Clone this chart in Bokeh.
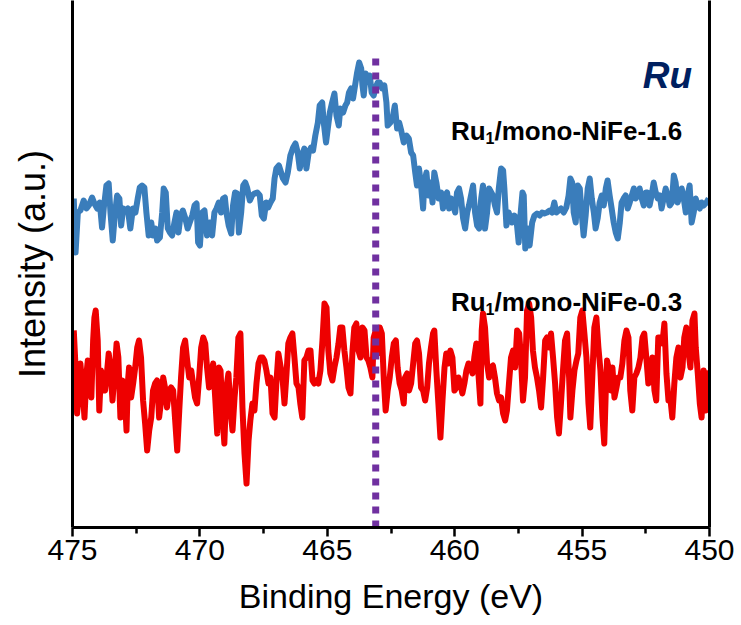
from bokeh.plotting import figure
from bokeh.models import Range1d, LinearAxis, Label, FixedTicker
from bokeh.embed import file_html
from bokeh.resources import INLINE

# ---------------- data ----------------
x_ticks = [475, 470, 465, 460, 455, 450]
x_minor = [472.5, 467.5, 462.5, 457.5, 452.5]
ref_line_ev = 463.1          # dotted reference line position (eV)
ref_line_top = 472           # its upper end (a.u.)

blue_ev = [
    474.95, 474.88, 474.79, 474.69, 474.56, 474.45, 474.36, 474.23, 474.14, 474.03,
    473.93, 473.84, 473.77, 473.67, 473.58, 473.51, 473.42, 473.34, 473.25, 473.16,
    473.09, 473.01, 472.92, 472.83, 472.73, 472.63, 472.53, 472.44, 472.36, 472.27,
    472.18, 472.10, 472.01, 471.91, 471.84, 471.74, 471.68, 471.57, 471.48, 471.42,
    471.34, 471.26, 471.18, 471.09, 471.00, 470.92, 470.84, 470.76, 470.67, 470.57,
    470.48, 470.40, 470.30, 470.21, 470.13, 470.07, 470.00, 469.91, 469.82, 469.72,
    469.62, 469.52, 469.43, 469.35, 469.26, 469.17, 469.09, 469.02, 468.96, 468.87,
    468.77, 468.70, 468.62, 468.54, 468.47, 468.38, 468.30, 468.22, 468.15, 468.04,
    467.95, 467.86, 467.75, 467.65, 467.57, 467.49, 467.40, 467.32, 467.23, 467.14,
    467.07, 467.00, 466.90,
    466.74, 466.64, 466.55, 466.45, 466.34, 466.25, 466.16, 466.08, 465.99, 465.90,
    465.82, 465.73, 465.64, 465.56, 465.47, 465.37, 465.30, 465.20, 465.14, 465.05,
    464.98, 464.90, 464.81, 464.72, 464.64, 464.55, 464.49, 464.38, 464.29, 464.22,
    464.15, 464.07, 463.99, 463.91, 463.83, 463.75, 463.67, 463.62, 463.57, 463.49,
    463.41, 463.33, 463.26, 463.18, 463.10, 463.02, 462.94, 462.85, 462.76, 462.68,
    462.63, 462.52, 462.42, 462.35, 462.26, 462.18, 462.10, 462.00, 461.89, 461.80,
    461.71, 461.63, 461.55, 461.48, 461.40, 461.32, 461.24, 461.19, 461.11, 461.03,
    460.95, 460.87, 460.80, 460.72, 460.63, 460.53, 460.46, 460.38, 460.30, 460.22,
    460.14, 460.06, 459.98, 459.91, 459.83, 459.75, 459.67, 459.59, 459.51, 459.44,
    459.36, 459.28, 459.20, 459.12, 459.04, 458.96, 458.89, 458.81, 458.73, 458.65,
    458.50, 458.42, 458.34, 458.27, 458.18, 458.10, 458.05, 457.97, 457.88, 457.82,
    457.75, 457.66, 457.58, 457.49, 457.42, 457.34, 457.29, 457.23, 457.13, 457.06,
    456.96, 456.87, 456.77, 456.66, 456.57, 456.48, 456.38, 456.27, 456.18, 456.09,
    456.01, 455.92, 455.83, 455.72, 455.62, 455.53, 455.46, 455.39, 455.33, 455.25,
    455.17, 455.09, 455.02, 454.94, 454.86, 454.78, 454.70, 454.62, 454.54, 454.47,
    454.39, 454.31, 454.23, 454.15, 454.07, 454.00, 453.92, 453.84, 453.76, 453.68,
    453.60, 453.52, 453.45, 453.37, 453.29, 453.21, 453.13, 453.05, 452.97, 452.90,
    452.82, 452.74, 452.66, 452.58, 452.50, 452.43, 452.35, 452.27, 452.19, 452.11,
    452.03, 451.95, 451.88, 451.80, 451.72, 451.64, 451.56, 451.48, 451.40, 451.33,
    451.25, 451.17, 451.09, 451.01, 450.93, 450.86, 450.78, 450.70, 450.62, 450.54,
    450.46, 450.38, 450.31, 450.23, 450.12, 450.03,
]
blue_int = [
    329, 275, 315, 317, 327, 319, 322, 330, 324, 319,
    325, 300, 320, 342, 344, 315, 287, 312, 332, 329,
    302, 319, 317, 319, 299, 319, 315, 329, 340, 342,
    340, 315, 292, 305, 292, 299, 287, 290, 315, 339,
    335, 299, 295, 292, 305, 315, 295, 312, 317, 309,
    299, 305, 312, 322, 324, 285, 282, 315, 317, 292,
    305, 292, 315, 319, 325, 315, 329, 330, 315, 302,
    294, 322, 335, 334, 295, 315, 342, 345, 340, 327,
    332, 334, 335, 332, 312, 309, 325, 320, 325, 329,
    349, 359, 362,
    349, 345, 355, 372, 380, 384, 375, 359, 372, 379,
    359, 375, 380, 377, 392, 405, 422, 425, 405, 385,
    399, 415, 425, 434, 412, 402, 419, 415, 422, 425,
    435, 439, 429, 442, 455, 465, 459, 442, 432, 454,
    447, 452, 435, 432, 440, 445, 445, 439, 442, 425,
    402, 405, 412, 422, 399, 405, 397, 385, 392, 389,
    375, 372, 355, 342, 359, 342, 319, 345, 355, 332,
    345, 325, 355, 345, 329, 335, 319, 332, 335, 319,
    329, 322, 315, 335, 339, 329, 309, 299, 315, 322,
    332, 342, 315, 302, 299, 329, 342, 299, 315, 339,
    332, 322, 315, 339, 359, 357, 339, 302, 315, 309,
    305, 312, 309, 285, 312, 335, 332, 279, 299, 282,
    305, 312, 314, 312, 315, 314, 315, 317, 315, 325,
    315, 317, 319, 315, 320, 332, 349, 345, 315, 305,
    342, 339, 315, 292, 312, 339, 349, 329, 315, 299,
    309, 325, 332, 322, 339, 347, 332, 319, 305, 295,
    289, 305, 325, 329, 332, 319, 325, 332, 339, 329,
    332, 339, 329, 322, 335, 335, 322, 332, 345, 335,
    329, 332, 319, 329, 339, 332, 322, 325, 352, 345,
    325, 332, 339, 329, 315, 332, 342, 305, 315, 329,
    322, 319, 325, 322, 325, 329,
]

red_ev = [
    474.95, 474.88, 474.82, 474.74, 474.69, 474.61, 474.53, 474.45, 474.40, 474.32,
    474.26, 474.19, 474.14, 474.09, 474.01, 473.95, 473.88, 473.80, 473.72, 473.64,
    473.58, 473.51, 473.43, 473.35, 473.27, 473.20, 473.12, 473.04, 472.96, 472.88,
    472.83, 472.78, 472.70, 472.62, 472.54, 472.46, 472.39, 472.31, 472.23, 472.15,
    472.07, 471.99, 471.91, 471.84, 471.76, 471.68, 471.60, 471.52, 471.44, 471.37,
    471.29, 471.21, 471.13, 471.05, 470.97, 470.89, 470.81, 470.74, 470.66, 470.58,
    470.50, 470.42, 470.34, 470.27, 470.19, 470.11, 470.03, 469.95, 469.87, 469.79,
    469.72, 469.64, 469.56, 469.48, 469.40, 469.32, 469.25, 469.19, 469.11, 469.04,
    468.96, 468.88, 468.80, 468.72, 468.64, 468.57, 468.49, 468.41, 468.33, 468.25,
    468.17, 468.09, 468.02, 467.94, 467.86, 467.78, 467.70, 467.62, 467.54, 467.47,
    467.39, 467.31, 467.23, 467.15, 467.07, 467.00, 466.92,
    466.76, 466.68, 466.60, 466.53, 466.45, 466.37, 466.29, 466.21, 466.13, 466.06,
    465.98, 465.90, 465.82, 465.74, 465.66, 465.58, 465.51, 465.43, 465.35, 465.27,
    465.19, 465.11, 465.03, 464.96, 464.88, 464.80, 464.72, 464.64, 464.56, 464.49,
    464.41, 464.33, 464.25, 464.17, 464.09, 464.01, 463.94, 463.86, 463.78, 463.70,
    463.62, 463.54, 463.46, 463.39, 463.31, 463.23, 463.18, 463.10, 463.02, 462.94,
    462.86, 462.78, 462.71, 462.63, 462.55, 462.47, 462.39, 462.31, 462.24, 462.16,
    462.08, 462.00, 461.95, 461.87, 461.79, 461.71, 461.63, 461.55, 461.48, 461.40,
    461.32, 461.24, 461.16, 461.08, 461.01, 460.93, 460.85, 460.80, 460.72, 460.64,
    460.56, 460.48, 460.40, 460.33, 460.25, 460.17, 460.09, 460.01, 459.93, 459.85,
    459.78, 459.70, 459.62, 459.54, 459.46, 459.38, 459.30, 459.23, 459.15, 459.07,
    458.99, 458.94, 458.89, 458.81, 458.73, 458.65,
    458.60, 458.50, 458.42, 458.34, 458.26, 458.18, 458.10, 458.02, 457.95, 457.87,
    457.79, 457.71, 457.63, 457.55, 457.47, 457.40, 457.32, 457.24, 457.16, 457.08,
    457.00, 456.93, 456.85, 456.77, 456.69, 456.61, 456.53, 456.45, 456.38, 456.30,
    456.22, 456.14, 456.06, 455.98, 455.91, 455.83, 455.75, 455.67, 455.59, 455.51,
    455.46, 455.38, 455.30, 455.22, 455.15, 455.07, 454.99, 454.91, 454.83, 454.75,
    454.68, 454.60, 454.52, 454.44, 454.36, 454.28, 454.20, 454.13, 454.07, 454.02,
    453.94, 453.86, 453.81, 453.73, 453.65, 453.58, 453.50, 453.42, 453.34, 453.26,
    453.18, 453.11, 453.03, 452.95, 452.87, 452.79, 452.71, 452.63, 452.56, 452.48,
    452.40, 452.32, 452.24, 452.16, 452.09, 452.01, 451.93, 451.85, 451.77, 451.69,
    451.61, 451.54, 451.46, 451.38, 451.30, 451.22, 451.14, 451.06, 450.99, 450.91,
    450.83, 450.75, 450.67, 450.59, 450.54, 450.46, 450.38, 450.31, 450.23, 450.15,
    450.07, 450.02,
]
red_int = [
    197, 160, 114, 137, 164, 140, 110, 154, 167, 137,
    130, 187, 210, 217, 187, 117, 157, 150, 137, 157,
    174, 160, 127, 154, 184, 170, 110, 147, 137, 97,
    144, 160, 130, 144, 160, 180, 187, 170, 127, 104,
    77, 97, 110, 137, 144, 147, 110, 127, 150, 140,
    120, 137, 140, 137, 107, 77, 117, 150, 180, 187,
    167, 150, 157, 144, 130, 124, 150, 180, 190, 184,
    160, 140, 154, 164, 130, 94, 160, 157, 110, 84,
    140, 154, 117, 97, 130, 150, 190, 194, 120, 74,
    44, 87, 107, 124, 117, 144, 164, 170, 170, 167,
    157, 144, 150, 114, 110, 144, 174,
    150, 124, 154, 184, 190, 194, 170, 144, 140, 124,
    110, 167, 170, 177, 177, 147, 144, 147, 144, 157,
    187, 224, 220, 177, 154, 147, 160, 170, 184, 200,
    200, 177, 160, 140, 134, 177, 200, 204, 177, 170,
    200, 197, 170, 167, 160, 150, 190, 197, 174, 200,
    194, 147, 117, 137, 150, 170, 184, 187, 160, 144,
    137, 124, 150, 154, 137, 144, 164, 184, 187, 174,
    140, 137, 127, 140, 164, 180, 194, 197, 157, 124,
    90, 127, 160, 174, 164, 177, 170, 137, 140, 150,
    144, 134, 144, 157, 164, 160, 154, 170, 184, 154,
    124, 197, 214, 200, 164, 150,
    160, 162, 150, 134, 127, 130, 114, 107, 117, 144,
    170, 177, 160, 197, 194, 170, 127, 150, 217, 224,
    210, 177, 160, 150, 137, 120, 150, 187, 190, 180,
    194, 170, 144, 110, 94, 124, 157, 187, 194, 150,
    110, 137, 157, 167, 174, 210, 217, 194, 170, 124,
    100, 150, 200, 210, 180, 157, 110, 84, 137, 167,
    157, 137, 160, 130, 140, 150, 150, 164, 187, 197,
    190, 137, 117, 150, 154, 160, 170, 190, 194, 170,
    144, 150, 170, 137, 127, 190, 190, 184, 204, 154,
    127, 130, 110, 144, 170, 180, 150, 160, 190, 200,
    177, 160, 207, 214, 180, 154, 124, 110, 157, 117,
    150, 157,
]

assert len(blue_ev) == len(blue_int), (len(blue_ev), len(blue_int))
assert len(red_ev) == len(red_int), (len(red_ev), len(red_int))

FONT = "Liberation Sans"

p = figure(width=741, height=625, output_backend="svg", toolbar_location=None,
           x_range=Range1d(475, 450), y_range=Range1d(0, 527),
           min_border_left=72, min_border_right=32, min_border_top=0,
           min_border_bottom=98)
p.outline_line_color = None
p.grid.visible = False
p.background_fill_color = "white"
p.border_fill_color = "white"

# x axis
xa = p.xaxis[0]
xa.ticker = FixedTicker(ticks=x_ticks, minor_ticks=x_minor)
xa.axis_line_width = 3
xa.axis_line_color = "black"
xa.major_tick_in = 0
xa.major_tick_out = 9
xa.minor_tick_in = 0
xa.minor_tick_out = 6
xa.major_tick_line_width = 2.5
xa.minor_tick_line_width = 2.5
xa.major_label_text_font = FONT
xa.major_label_text_font_size = "30px"
xa.major_label_text_color = "black"
xa.major_label_standoff = 3
xa.axis_label = "Binding Energy (eV)"
xa.axis_label_text_font = FONT
xa.axis_label_text_font_size = "34px"
xa.axis_label_text_font_style = "normal"
xa.axis_label_text_color = "black"
xa.axis_label_standoff = 14

# y axis (line only)
ya = p.yaxis[0]
ya.ticker = FixedTicker(ticks=[])
ya.axis_line_width = 3
ya.axis_line_color = "black"
ya.major_tick_line_color = None
ya.minor_tick_line_color = None
ya.axis_label = "Intensity (a.u.)"
ya.axis_label_text_font = FONT
ya.axis_label_text_font_size = "36px"
ya.axis_label_text_font_style = "normal"
ya.axis_label_text_color = "black"
ya.axis_label_standoff = 20

# right frame line
ra = LinearAxis(ticker=FixedTicker(ticks=[]), axis_line_width=3, axis_line_color="black",
                major_tick_line_color=None, minor_tick_line_color=None)
p.add_layout(ra, "right")

# spectra
p.line(blue_ev, blue_int, line_color="#3a7dbb", line_width=6, line_join="round")
p.line(red_ev, red_int, line_color="#ee0000", line_width=6, line_join="round")

# dotted reference line
p.segment(x0=[ref_line_ev], y0=[0], x1=[ref_line_ev], y1=[ref_line_top],
          line_color="#7030a0", line_width=7, line_dash="7 7", line_cap="butt")

# annotations
def sample_label(y, tail):
    x0 = 460.15
    p.add_layout(Label(x=x0, y=y, text="Ru", text_font=FONT, text_font_style="bold",
                       text_font_size="26px", text_color="black", text_baseline="alphabetic"))
    p.add_layout(Label(x=x0, y=y, x_offset=34.7, y_offset=-7, text="1", text_font=FONT,
                       text_font_style="bold", text_font_size="16px", text_color="black",
                       text_baseline="alphabetic"))
    p.add_layout(Label(x=x0, y=y, x_offset=43.6, text=tail, text_font=FONT,
                       text_font_style="bold", text_font_size="26px", text_color="black",
                       text_baseline="alphabetic"))

sample_label(397, "/mono-NiFe-1.6")
sample_label(226, "/mono-NiFe-0.3")

p.add_layout(Label(x=452.62, y=452, text="Ru", text_font=FONT, text_font_style="bold italic",
                   text_font_size="37px", text_color="#002060", text_baseline="alphabetic"))

open("out.html", "w").write(file_html(p, INLINE))
